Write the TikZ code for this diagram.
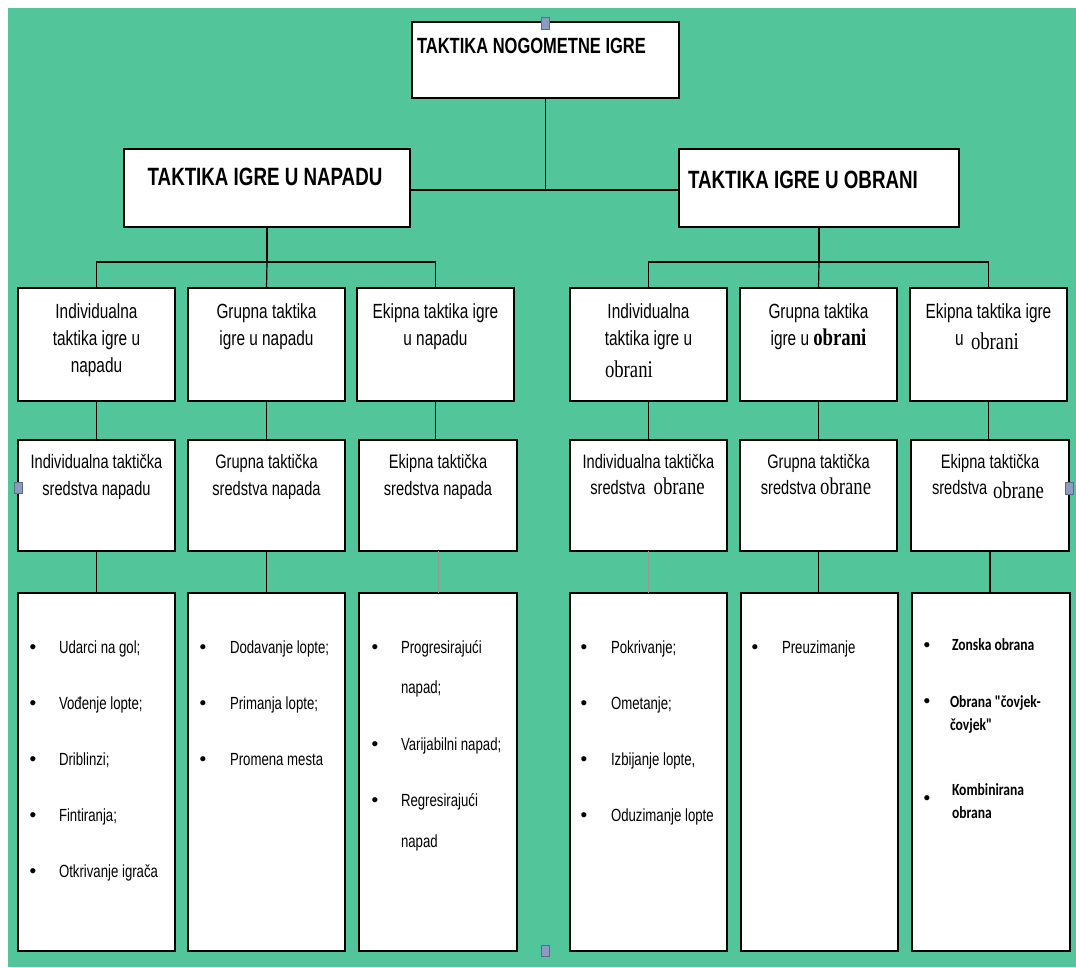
\documentclass[tikz,border=0pt]{standalone}
\usepackage{fontspec}
\setmainfont{Liberation Sans}[FakeStretch=0.75]
\newfontfamily\serf{Liberation Serif}[FakeStretch=0.78]
\newfontfamily\calb{Carlito}[FakeStretch=0.8]
\newfontfamily\bulf{Liberation Sans}
\definecolor{bg}{RGB}{82,197,154}
\definecolor{handlefill}{RGB}{140,156,192}
\definecolor{handledraw}{RGB}{90,105,140}
\newcommand\fA{\fontsize{22}{26}\selectfont\bfseries}
\newcommand\fB{\fontsize{25}{30}\selectfont\bfseries}
\newcommand\fC{\fontsize{20.5}{27}\selectfont}
\newcommand\fD{\fontsize{19.5}{27}\selectfont}
\newcommand\fE{\fontsize{17.6}{20}\selectfont}
\newcommand\fBu{\fontsize{19}{20}\selectfont\bulf}
\newcommand\fS{\fontsize{24}{27}\selectfont\serf}
\newcommand\fK{\fontsize{17}{20}\selectfont\calb\bfseries}
\newcommand\mkbox[5]{\node[box,minimum width={#4-#2},minimum height={#5-#3}] (#1) at ({(#2+#4)/2},{(#3+#5)/2}) {};}
\begin{document}
\begin{tikzpicture}[x=1pt,y=-1pt,
  box/.style={draw=black,line width=1.6pt,fill=white,inner sep=0pt,outer sep=0pt},
  conn/.style={draw=black,line width=1.2pt},
  faint/.style={draw=black!40,line width=0.8pt},
  tc/.style={anchor=base,inner sep=0pt,outer sep=0pt},
  tl/.style={anchor=base west,inner sep=0pt,outer sep=0pt},
  handle/.style={fill=handlefill,draw=handledraw,line width=0.5pt}]
\useasboundingbox (0,0) rectangle (1076,967);
\fill[bg] (8,8) rectangle (1076,967);

% boxes
\mkbox{top}{412}{22}{679}{98}
\mkbox{nap}{124}{149}{410}{227}
\mkbox{obr}{679}{149}{959}{227}
\mkbox{a1}{18}{288}{175}{401}
\mkbox{a2}{188}{288}{345}{401}
\mkbox{a3}{357}{288}{514}{401}
\mkbox{d1}{570}{288}{727}{401}
\mkbox{d2}{740}{288}{897}{401}
\mkbox{d3}{910}{288}{1067}{401}
\mkbox{b1}{18}{440}{175}{551}
\mkbox{b2}{188}{440}{345}{551}
\mkbox{b3}{359}{440}{517}{551}
\mkbox{e1}{570}{440}{727}{551}
\mkbox{e2}{740}{440}{897}{551}
\mkbox{e3}{911}{440}{1069}{551}
\mkbox{c1}{18}{593}{175}{951}
\mkbox{c2}{188}{593}{345}{951}
\mkbox{c3}{359}{593}{517}{951}
\mkbox{f1}{570}{593}{727}{951}
\mkbox{f2}{741}{593}{898}{951}
\mkbox{f3}{912}{593}{1070}{951}

% connectors
\coordinate (jt) at (545.5,190);
\coordinate (ja) at (267,262);
\coordinate (jd) at (819,262);
\draw[conn] (top.south) -- (jt);
\draw[conn] (nap.east |- jt) -- (obr.west |- jt);
\draw[conn] (nap.south) -- (ja);
\draw[conn] (a1.north) |- (ja) -| (a3.north);
\draw[conn] (a2.north) -- (ja);
\draw[conn] (obr.south) -- (jd);
\draw[conn] (d1.north) |- (jd) -| (d3.north);
\draw[conn] (d2.north) -- (jd);
\draw[conn] (a1.south) -- (b1.north);
\draw[conn] (a2.south) -- (b2.north);
\draw[conn] (a3.south) -- (a3.south |- b3.north);
\draw[conn] (d1.south) -- (e1.north);
\draw[conn] (d2.south) -- (e2.north);
\draw[conn] (d3.south) -- (d3.south |- e3.north);
\draw[conn] (b1.south) -- (c1.north);
\draw[conn] (b2.south) -- (c2.north);
\draw[faint] (b3.south) -- (c3.north);
\draw[faint] (e1.south) -- (f1.north);
\draw[conn] (e2.south) -- (e2.south |- f2.north);
\draw[conn] (e3.south) -- (e3.south |- f3.north);

% level 1-2 text
\node[tl] (tt) at (417,53) {\fA TAKTIKA NOGOMETNE IGRE};
\node[tc] (nt) at (265,185) {\fB TAKTIKA IGRE U NAPADU};
\node[tl] (ot) at (688,188) {\fB TAKTIKA IGRE U OBRANI};

% level 3 text
\node[tc] (a1t1) at (96.5,318) {\fC Individualna};
\node[tc] (a1t2) at (96.5,345) {\fC taktika igre u};
\node[tc] (a1t3) at (96.5,372) {\fC napadu};
\node[tc] (a2t1) at (266.5,318) {\fC Grupna taktika};
\node[tc] (a2t2) at (266.5,345) {\fC igre u napadu};
\node[tc] (a3t1) at (435.5,318) {\fC Ekipna taktika igre};
\node[tc] (a3t2) at (435.5,345) {\fC u napadu};
\node[tc] (d1t1) at (648.5,318) {\fC Individualna};
\node[tc] (d1t2) at (648.5,345) {\fC taktika igre u};
\node[tl] (d1t3) at (605,377) {\fS obrani};
\node[tc] (d2t1) at (818.5,318) {\fC Grupna taktika};
\node[tc] (d2t2) at (818.5,345) {\fC igre u {\fS\bfseries obrani}};
\node[tc] (d3t1) at (988.5,318) {\fC Ekipna taktika igre};
\node[tl] (d3t2) at (955,345) {\fC u};
\node[tl] (d3t3) at (971,349) {\fS obrani};

% level 4 text
\node[tc] (b1t1) at (96.5,468) {\fD Individualna taktička};
\node[tc] (b1t2) at (96.5,495) {\fD sredstva napadu};
\node[tc] (b2t1) at (266.5,468) {\fD Grupna taktička};
\node[tc] (b2t2) at (266.5,495) {\fD sredstva napada};
\node[tc] (b3t1) at (438,468) {\fD Ekipna taktička};
\node[tc] (b3t2) at (438,495) {\fD sredstva napada};
\node[tc] (e1t1) at (648.5,468) {\fD Individualna taktička};
\node[tc] (e1t2) at (647.5,494) {\fD sredstva~~{\fS obrane}};
\node[tc] (e2t1) at (818.5,468) {\fD Grupna taktička};
\node[tc] (e2t2) at (816,494) {\fD sredstva {\fS obrane}};
\node[tc] (e3t1) at (990,468) {\fD Ekipna taktička};
\node[tl] (e3t2) at (932,494) {\fD sredstva};
\node[tl] (e3t3) at (993,498) {\fS obrane};

% level 5 lists
\foreach \y/\t [count=\i] in {653/{Udarci na gol;},709/{Vođenje lopte;},765/{Driblinzi;},821/{Fintiranja;},877/{Otkrivanje igrača}}{
  \node[tc] (c1b\i) at (33,\y) {\fBu •};
  \node[tl] (c1t\i) at (59,\y) {\fE \t};
}
\foreach \y/\t [count=\i] in {653/{Dodavanje lopte;},709/{Primanja lopte;},765/{Promena mesta}}{
  \node[tc] (c2b\i) at (203,\y) {\fBu •};
  \node[tl] (c2t\i) at (230,\y) {\fE \t};
}
\node[tc] (c3b1) at (375,653) {\fBu •};
\node[tl] (c3t1) at (401,653) {\fE Progresirajući};
\node[tl] (c3t1b) at (401,693) {\fE napad;};
\node[tc] (c3b2) at (375,750) {\fBu •};
\node[tl] (c3t2) at (401,750) {\fE Varijabilni napad;};
\node[tc] (c3b3) at (375,806) {\fBu •};
\node[tl] (c3t3) at (401,806) {\fE Regresirajući};
\node[tl] (c3t3b) at (401,847) {\fE napad};

\foreach \y/\t [count=\i] in {653/{Pokrivanje;},709/{Ometanje;},765/{Izbijanje lopte,},821/{Oduzimanje lopte}}{
  \node[tc] (f1b\i) at (584,\y) {\fBu •};
  \node[tl] (f1t\i) at (611,\y) {\fE \t};
}
\node[tc] (f2b1) at (755,653) {\fBu •};
\node[tl] (f2t1) at (782,653) {\fE Preuzimanje};

\node[tc] (f3b1) at (927,651) {\fBu •};
\node[tl] (f3t1) at (952,650) {\fK Zonska obrana};
\node[tc] (f3b2) at (927,707) {\fBu •};
\node[tl] (f3t2) at (950,707) {\fK Obrana "čovjek-};
\node[tl] (f3t2b) at (950,730) {\fK čovjek"};
\node[tc] (f3b3) at (927,804) {\fBu •};
\node[tl] (f3t3) at (952,795) {\fK Kombinirana};
\node[tl] (f3t3b) at (952,818) {\fK obrana};

% selection handles
\filldraw[handle] (541,17) rectangle (549,29);
\filldraw[handle] (14.5,482) rectangle (22.5,493);
\filldraw[handle] (1065,482) rectangle (1073,494);
\filldraw[handle] (541,945) rectangle (549,956);
\end{tikzpicture}
\end{document}
